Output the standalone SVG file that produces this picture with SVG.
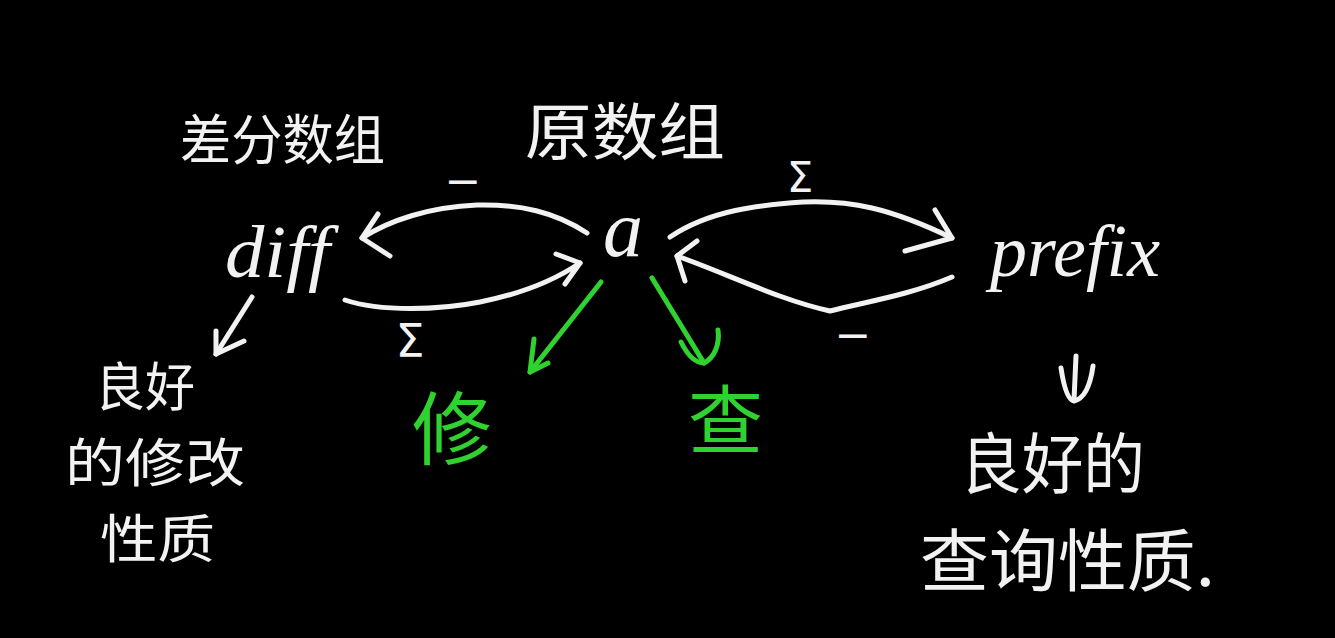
<svg xmlns="http://www.w3.org/2000/svg" width="1335" height="638" viewBox="0 0 1335 638">
<style>
.bg{fill:#000}
.cjk{font-family:"Noto Sans CJK SC","Noto Sans",sans-serif;fill:#f2f2f2}
.lat{font-family:"Liberation Serif","DejaVu Serif",serif;font-style:italic;fill:#f2f2f2}
.sym{font-family:"DejaVu Sans","Liberation Sans",sans-serif;fill:#f2f2f2}
.green{fill:#2fd22f}
.w{fill:none;stroke:#f2f2f2;stroke-width:5;stroke-linecap:round;stroke-linejoin:round}
.g{fill:none;stroke:#2fd22f;stroke-width:5;stroke-linecap:round;stroke-linejoin:round}
</style>
<rect class="bg" x="0" y="0" width="1335" height="638"/>

<g id="label-diff-title"><text class="cjk" x="180" y="160" font-size="54" textLength="205" lengthAdjust="spacingAndGlyphs">差分数组</text></g>
<g id="label-a-title"><text class="cjk" x="525" y="155" font-size="62" textLength="200" lengthAdjust="spacingAndGlyphs">原数组</text></g>

<g id="node-diff"><text class="lat" x="225" y="277" font-size="74" textLength="105" lengthAdjust="spacingAndGlyphs">diff</text></g>
<g id="node-a"><text class="lat" x="603" y="256" font-size="80">a</text></g>
<g id="node-prefix"><text class="lat" x="990" y="276" font-size="75" textLength="170" lengthAdjust="spacingAndGlyphs">prefix</text></g>

<g id="connectors">
  <!-- a -> diff (minus) -->
  <path class="w" d="M587,233 C555,212 520,204 477,205 C430,207 390,220 362,238"/>
  <path class="w" d="M378,214 L362,238 L390,256"/>
  <!-- diff -> a (sum) -->
  <path class="w" d="M345,300 C380,312 440,310 480,302 C520,294 555,280 580,263"/>
  <path class="w" d="M556,254 L580,263 L565,284"/>
  <!-- a -> prefix (sum) -->
  <path class="w" d="M670,237 C710,210 760,205 803,202 C850,200 890,208 952,238"/>
  <path class="w" d="M935,210 L952,238 L905,251"/>
  <!-- prefix -> a (minus) -->
  <path class="w" d="M952,277 C910,295 865,302 830,311 C780,300 730,275 677,256"/>
  <path class="w" d="M697,241 L677,256 L685,281"/>
  <!-- diff down -->
  <path class="w" d="M252,297 L216,354"/>
  <path class="w" d="M216,331 L216,354 L244,341"/>
  <!-- prefix down -->
  <path class="w" d="M1076,356 L1074,400"/>
  <path class="w" d="M1061,368 C1064,388 1068,400 1074,401 C1083,399 1090,388 1093,366"/>
  <!-- green arrows -->
  <path class="g" d="M601,282 L530,372"/>
  <path class="g" d="M534,339 L530,372 L548,363"/>
  <path class="g" d="M652,278 L704,363"/>
  <path class="g" d="M681,342 C688,356 696,363 704,363 C714,358 720,345 718,330"/>
</g>

<g id="edge-labels">
  <text class="sym" x="463" y="196" font-size="44" text-anchor="middle">−</text>
  <text class="sym" x="410" y="357" font-size="46" text-anchor="middle">Σ</text>
  <text class="sym" x="800" y="192" font-size="42" text-anchor="middle">Σ</text>
  <text class="sym" x="853" y="350" font-size="44" text-anchor="middle">−</text>
</g>

<g id="node-modify"><text class="cjk green" x="412" y="458" font-size="80">修</text></g>
<g id="node-query"><text class="cjk green" x="688" y="448" font-size="75">查</text></g>

<g id="note-left">
  <text class="cjk" x="95" y="406" font-size="52" textLength="100" lengthAdjust="spacingAndGlyphs">良好</text>
  <text class="cjk" x="65" y="482" font-size="52" textLength="180" lengthAdjust="spacingAndGlyphs">的修改</text>
  <text class="cjk" x="100" y="558" font-size="52" textLength="115" lengthAdjust="spacingAndGlyphs">性质</text>
</g>
<g id="note-right">
  <text class="cjk" x="960" y="488" font-size="66" textLength="185" lengthAdjust="spacingAndGlyphs">良好的</text>
  <text class="cjk" x="920" y="586" font-size="68" textLength="295" lengthAdjust="spacingAndGlyphs">查询性质.</text>
</g>
</svg>
